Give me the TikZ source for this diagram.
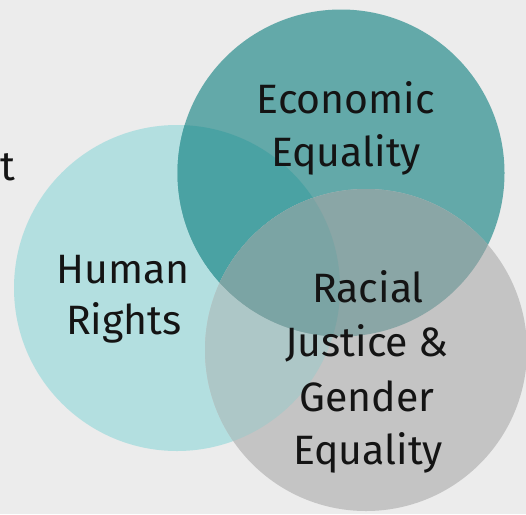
\documentclass[tikz,border=0pt]{standalone}
\usepackage{fontspec}
\setmainfont{Fira Sans}
\begin{document}
\begin{tikzpicture}[x=1pt,y=-1pt,
  lbl/.style={anchor=base,inner sep=0pt,font=\fontsize{41}{48}\selectfont,text=black!92}]
\definecolor{bgc}{HTML}{ECECEC}
\definecolor{hrc}{HTML}{B3DFE0}
\definecolor{ecc}{HTML}{63A9A9}
\definecolor{hrec}{HTML}{4AA2A3}
\definecolor{rjc}{HTML}{C4C4C4}
\definecolor{hrrj}{HTML}{ADC7C7}
\definecolor{ecrj}{HTML}{8AA6A6}
\definecolor{allc}{HTML}{7BA4A4}
% canvas
\fill[bgc] (0,0) rectangle (526,514);
\useasboundingbox (0,0) rectangle (526,514);
% the three sets
\def\hrpath{(177,288) circle[radius=163]}
\def\ecpath{(341,173) circle[radius=163.5]}
\def\rjpath{(366,350) circle[radius=161]}
\fill[hrc] \hrpath;
\fill[ecc] \ecpath;
\begin{scope}\clip \hrpath; \fill[hrec] \ecpath; \end{scope}
\fill[rjc] \rjpath;
\begin{scope}\clip \rjpath; \fill[hrrj] \hrpath; \fill[ecrj] \ecpath;
  \begin{scope}\clip \hrpath; \fill[allc] \ecpath; \end{scope}
\end{scope}
% labels
\node[lbl,anchor=base west] (cut) at (0,180) {t};
\node[lbl] (ec1) at (346,113) {Economic};
\node[lbl] (ec2) at (346,166) {Equality};
\node[lbl] (hr1) at (123,283) {Human};
\node[lbl] (hr2) at (124,334) {Rights};
\node[lbl] (rj1) at (368,302) {Racial};
\node[lbl] (rj2) at (367,356) {Justice \&};
\node[lbl] (rj3) at (367,411) {Gender};
\node[lbl] (rj4) at (368,464) {Equality};
\end{tikzpicture}
\end{document}
